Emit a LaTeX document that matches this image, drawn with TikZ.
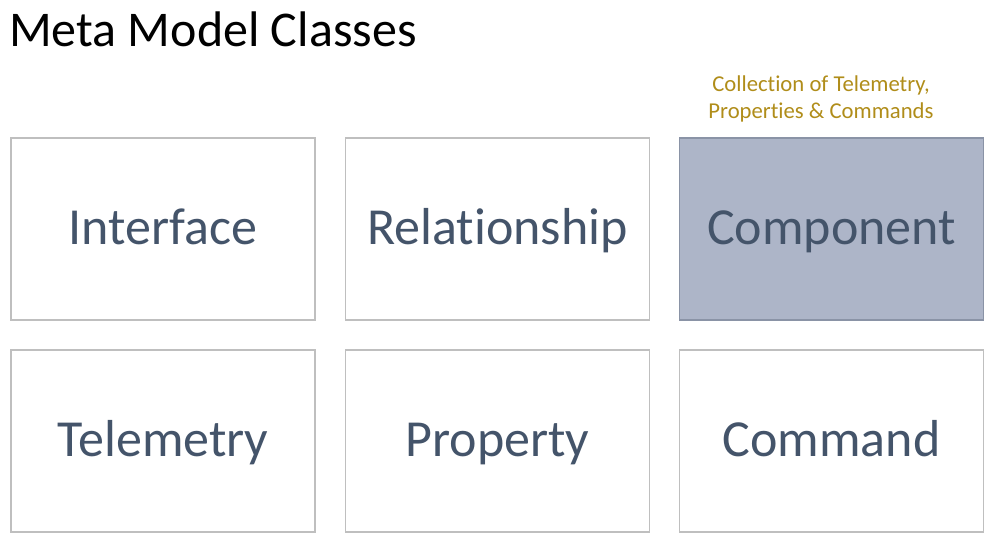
\documentclass[tikz,border=0pt]{standalone}
\usepackage{fontspec}
\setmainfont{Carlito}[Ligatures=NoCommon]
\definecolor{boxtext}{HTML}{44546A}
\definecolor{boxline}{HTML}{BFBFBF}
\definecolor{compfill}{HTML}{ADB5C8}
\definecolor{compline}{HTML}{8A93A6}
\definecolor{note}{HTML}{B08D1A}
\begin{document}
\begin{tikzpicture}[x=1pt,y=-1pt,
  classbox/.style={draw=boxline,line width=1.2pt,fill=white,minimum width=304pt,minimum height=182pt,
    inner sep=0pt,text=boxtext,font=\fontsize{52}{60}\selectfont,text height=36pt,text depth=6pt},
  comp/.style={classbox,fill=compfill,draw=compline}]
\useasboundingbox (0,0) rectangle (998,550);
\node[anchor=base west,inner sep=0pt,font=\fontsize{50}{60}\selectfont] (title) at (9,46) {Meta Model Classes};
\node[classbox] (interface) at (163,229) {Interface};
\node[classbox] (relationship) at (497.5,229) {Relationship};
\node[comp] (component) at (831.5,229) {Component};
\node[classbox] (telemetry) at (163,441) {Telemetry};
\node[classbox] (property) at (497.5,441) {Property};
\node[classbox] (command) at (831.5,441) {Command};
\node[text=note,align=center,inner sep=0pt,font=\fontsize{22.7}{26.5}\selectfont,anchor=base] (note) at (821,118) {Collection of Telemetry,\\Properties \& Commands};
\end{tikzpicture}
\end{document}
